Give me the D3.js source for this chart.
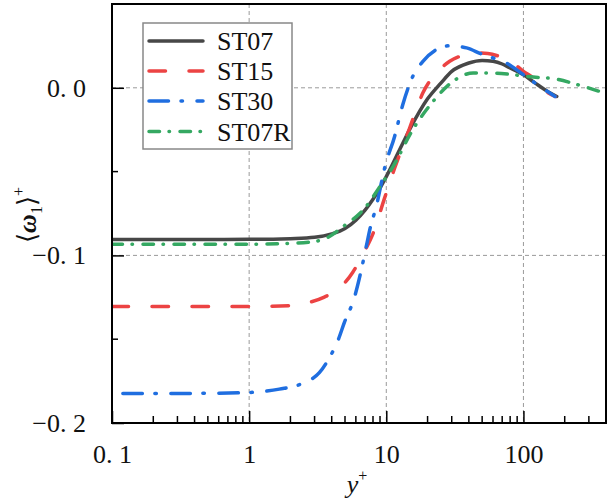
<!DOCTYPE html>
<html>
<head>
<meta charset="utf-8">
<script src="https://cdn.jsdelivr.net/npm/d3@7"></script>
<style>
  body { margin: 0; background: #fff; }
  svg { display: block; font-family: 'Liberation Serif', 'DejaVu Serif', serif; }
</style>
</head>
<body>
<div id="chart"></div>
<script>
// series names + colours
const seriesNames = ["ST07", "ST15", "ST30", "ST07R"];
const seriesColors = ["#474747", "#ec4343", "#1f6ee0", "#35a862"];

// y+ positions and <omega_1>+ values
const yPlusST07 = [0.1, 0.2, 0.5, 1, 1.5, 2, 3, 4, 5, 6, 7, 8, 9, 10, 12.5, 15, 20, 25, 30, 40, 50, 60, 70, 80, 100, 120, 150, 175];
const omegaST07 = [-0.0905, -0.0905, -0.0905, -0.0904, -0.0903, -0.0900, -0.0892, -0.0872, -0.0840, -0.0790, -0.0730, -0.0665, -0.0598, -0.0530, -0.0370, -0.0240, -0.0066, 0.0028, 0.0098, 0.0148, 0.0163, 0.0158, 0.0142, 0.0118, 0.0078, 0.0032, -0.0022, -0.0052];

const yPlusST15 = [0.1, 0.5, 1, 2, 2.75, 3.5, 4.7, 5.7, 7, 8, 9.7, 11.5, 14.8, 18.5, 24.5, 29, 35, 45, 55, 70, 84, 100, 120, 148, 170];
const omegaST15 = [-0.1305, -0.1305, -0.1305, -0.1300, -0.1280, -0.1250, -0.1186, -0.1100, -0.0970, -0.0870, -0.0660, -0.0480, -0.0240, -0.0030, 0.0108, 0.0158, 0.0190, 0.0208, 0.0205, 0.0180, 0.0148, 0.0098, 0.0055, -0.0025, -0.0052];

const yPlusST30 = [0.12, 0.5, 1, 1.66, 2.52, 3.25, 3.85, 4.43, 4.95, 5.86, 6.56, 7.13, 7.77, 8.45, 9.19, 9.72, 11.5, 13.2, 15.6, 18.5, 23.2, 29, 38.5, 50, 60, 75, 100, 132, 170];
const omegaST30 = [-0.1824, -0.1823, -0.1818, -0.1798, -0.1759, -0.1700, -0.1610, -0.1510, -0.1400, -0.1250, -0.1090, -0.0950, -0.0810, -0.0710, -0.0570, -0.0480, -0.0290, -0.0100, 0.0068, 0.0158, 0.0228, 0.0251, 0.0238, 0.0200, 0.0178, 0.0148, 0.0078, 0.0008, -0.0052];

const yPlusST07R = [0.1, 1, 2, 3.25, 3.8, 4.8, 6.4, 7.1, 8.8, 11.2, 15.6, 21.9, 30.6, 43, 60, 84, 118, 165, 245, 360];
const omegaST07R = [-0.0934, -0.0933, -0.0928, -0.0912, -0.0890, -0.0830, -0.0750, -0.0710, -0.0600, -0.0470, -0.0250, -0.0082, 0.0038, 0.0088, 0.0088, 0.0078, 0.0064, 0.0055, 0.0020, -0.0022];

// ticks
const xMajorTicks = [0.1, 1, 10, 100];
const xTickLabels = ["0. 1", "1", "10", "100"];
const yMajorTicks = [-0.2, -0.1, 0.0];
const yTickLabels = ["\u22120. 2", "\u22120. 1", "0. 0"];
const yMinorTicks = [-0.15, -0.05];

const W = 608, H = 502;
const plot = { left: 112, right: 606, top: 4, bottom: 423 };

const svg = d3.select("#chart").append("svg")
    .attr("width", W)
    .attr("height", H);

const x = d3.scaleLog().domain([0.1, 400]).range([plot.left, plot.right]);
const y = d3.scaleLinear().domain([-0.2, 0.05]).range([plot.bottom, plot.top]);

// minor x ticks: 2..9 in every decade
const xMinorTicks = [];
[0.1, 1, 10, 100].forEach(d => {
    for (let k = 2; k <= 9; k++) {
        const v = d * k;
        if (v < 400) xMinorTicks.push(v);
    }
});

svg.append("defs").append("clipPath").attr("id", "clip")
    .append("rect")
    .attr("x", plot.left).attr("y", plot.top)
    .attr("width", plot.right - plot.left).attr("height", plot.bottom - plot.top);

// grid
const grid = svg.append("g")
    .attr("stroke", "#9a9a9a")
    .attr("stroke-width", 1)
    .attr("stroke-dasharray", "4,3");
grid.selectAll(".gx").data(xMajorTicks.slice(1)).enter().append("line")
    .attr("x1", d => x(d)).attr("x2", d => x(d))
    .attr("y1", plot.top).attr("y2", plot.bottom);
grid.selectAll(".gy").data(yMajorTicks.slice(1)).enter().append("line")
    .attr("x1", plot.left).attr("x2", plot.right)
    .attr("y1", d => y(d)).attr("y2", d => y(d));

// curves
const series = [
    { xs: yPlusST07, ys: omegaST07, dash: null },
    { xs: yPlusST15, ys: omegaST15, dash: "16.5 23.5" },
    { xs: yPlusST30, ys: omegaST30, dash: "19.5 12.5 1.5 14.5" },
    { xs: yPlusST07R, ys: omegaST07R, dash: "10.5 9.5 0.5 10.5" }
];

const line = d3.line()
    .x(d => x(d[0]))
    .y(d => y(d[1]))
    .curve(d3.curveMonotoneX);

const curves = svg.append("g").attr("clip-path", "url(#clip)");
series.forEach((s, i) => {
    curves.append("path")
        .datum(s.xs.map((v, j) => [v, s.ys[j]]))
        .attr("d", line)
        .attr("fill", "none")
        .attr("stroke", seriesColors[i])
        .attr("stroke-width", 3.5)
        .attr("stroke-linecap", "round")
        .attr("stroke-linejoin", "round")
        .attr("stroke-dasharray", s.dash);
});

// axes (ticks point inwards)
const axisX = d3.axisBottom(x)
    .tickValues(xMajorTicks)
    .tickSize(-12)
    .tickPadding(22)
    .tickFormat((d, i) => xTickLabels[i]);
const gx = svg.append("g")
    .attr("transform", `translate(0,${plot.bottom})`)
    .call(axisX);

gx.selectAll(".xminor").data(xMinorTicks).enter().append("line")
    .attr("x1", d => x(d)).attr("x2", d => x(d))
    .attr("y1", 0).attr("y2", -7)
    .attr("stroke", "#000").attr("stroke-width", 1.5);

const axisY = d3.axisLeft(y)
    .tickValues(yMajorTicks)
    .tickSize(-12)
    .tickPadding(26)
    .tickFormat((d, i) => yTickLabels[i]);
const gy = svg.append("g")
    .attr("transform", `translate(${plot.left},0)`)
    .call(axisY);

gy.selectAll(".yminor").data(yMinorTicks).enter().append("line")
    .attr("x1", 0).attr("x2", 6)
    .attr("y1", d => y(d)).attr("y2", d => y(d))
    .attr("stroke", "#000").attr("stroke-width", 1.5);

[gx, gy].forEach(g => {
    g.select(".domain").remove();
    g.selectAll(".tick line").attr("stroke", "#000").attr("stroke-width", 1.5);
    g.selectAll(".tick text")
        .attr("font-size", "26px")
        .attr("fill", "#111")
        .style("font-family", "'Liberation Serif', serif");
});
gx.selectAll(".tick text").attr("dy", "0.71em");

// frame
svg.append("rect")
    .attr("x", plot.left).attr("y", plot.top)
    .attr("width", plot.right - plot.left).attr("height", plot.bottom - plot.top)
    .attr("fill", "none")
    .attr("stroke", "#000")
    .attr("stroke-width", 2);

// legend
const legend = svg.append("g");
legend.append("rect")
    .attr("x", 143).attr("y", 23)
    .attr("width", 149).attr("height", 126)
    .attr("fill", "#fff")
    .attr("stroke", "#888")
    .attr("stroke-width", 1.5);

const rowY = [41, 71, 101, 131.5];
seriesNames.forEach((name, i) => {
    legend.append("line")
        .attr("x1", 149).attr("x2", 203)
        .attr("y1", rowY[i]).attr("y2", rowY[i])
        .attr("stroke", seriesColors[i])
        .attr("stroke-width", 3.5)
        .attr("stroke-linecap", "round")
        .attr("stroke-dasharray", series[i].dash);
    legend.append("text")
        .attr("x", 217).attr("y", rowY[i])
        .attr("dy", "0.35em")
        .attr("font-size", "26px")
        .attr("fill", "#111")
        .text(name);
});

// axis titles
const xt = svg.append("text")
    .attr("x", 357).attr("y", 493)
    .attr("text-anchor", "middle")
    .attr("font-size", "26px")
    .attr("fill", "#111");
xt.append("tspan").attr("font-style", "italic").text("y");
xt.append("tspan").attr("font-size", "16px").attr("dy", "-12").text("+");

const yt = svg.append("text")
    .attr("transform", "translate(36,215) rotate(-90)")
    .attr("text-anchor", "middle")
    .attr("font-size", "26px")
    .attr("fill", "#111");
yt.append("tspan").text("\u27E8");
yt.append("tspan").attr("font-style", "italic").attr("font-weight", "bold").text("\u03C9");
yt.append("tspan").attr("font-size", "16px").attr("dy", "6").text("1");
yt.append("tspan").attr("dy", "-6").text("\u27E9");
yt.append("tspan").attr("font-size", "16px").attr("dy", "-12").text("+");
</script>
</body>
</html>
